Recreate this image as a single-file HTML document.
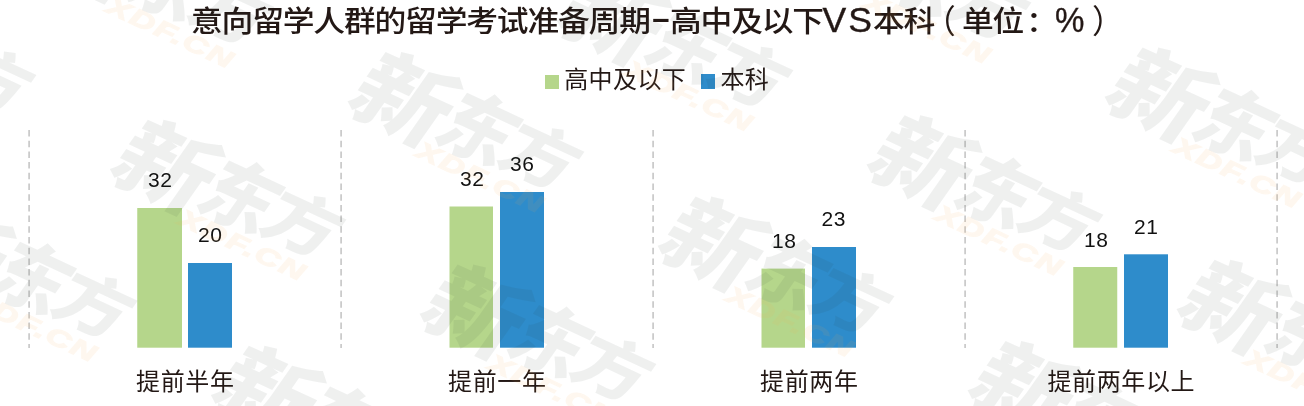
<!DOCTYPE html>
<html lang="zh-CN">
<head>
<meta charset="utf-8">
<title>意向留学人群的留学考试准备周期</title>
<style>
html,body{margin:0;padding:0;background:#fff;}
body{width:1304px;height:406px;position:relative;overflow:hidden;font-family:"Liberation Sans","Noto Sans CJK SC",sans-serif;color:#231815;}
.abs{position:absolute;white-space:nowrap;}
#title{left:0;top:1.5px;width:1304px;height:40px;}
#title span{position:absolute;top:0;line-height:40px;white-space:nowrap;font-size:29.15px;font-weight:500;letter-spacing:-1.08px;transform-origin:0 50%;transform:scaleX(1.09);}
#title span.lat{font-size:35.6px;font-weight:400;letter-spacing:2px;transform:none;top:-1.2px;-webkit-text-stroke:0.35px #231815;}
#title span.par{font-weight:400;-webkit-text-stroke:0;transform:scale(1.09,1.13);}
#title span.pct{letter-spacing:0;transform:scaleX(0.93);}
#title span.dash{font-size:31px;font-weight:700;letter-spacing:0;transform:none;top:-2.2px;-webkit-text-stroke:0;}
.legend{font-size:24px;line-height:30px;top:65px;letter-spacing:0.4px;}
.sq{position:absolute;width:14px;height:14px;}
svg.lines{position:absolute;left:0;top:0;}
.bar{position:absolute;}
.g{background:#b5d68b;}
.b{background:#2e8ccb;}
.val{position:absolute;font-size:21px;line-height:24px;width:60px;text-align:center;color:#111;letter-spacing:0.6px;text-indent:0.6px;}
.cat{position:absolute;font-size:24px;letter-spacing:0.6px;text-indent:0.6px;line-height:30px;top:367.4px;width:200px;text-align:center;}
#wm{position:absolute;left:695.7px;top:190.0px;width:0;height:0;transform-origin:0 0;transform:rotate(25.0deg);pointer-events:none;}
.wm{position:absolute;width:0;height:0;}
.wm b{position:absolute;white-space:nowrap;font-family:"Liberation Sans","Noto Sans CJK SC",sans-serif;font-weight:900;font-style:normal;line-height:1;color:#2b3a34;-webkit-text-stroke:0px #2b3a34;opacity:0.072;transform-origin:0 0;}
.wm .c1{left:-1px;top:-1.5px;font-size:80px;transform:skewX(-10.0deg) scale(1.2,1.12);}
.wm .c2{left:90px;top:0px;font-size:70px;transform:skewX(-10.0deg) scale(1.03,1.09);}
.wm .c3{left:156px;top:2.5px;font-size:64px;transform:skewX(-10.0deg) scale(1.15,1.03);}
.wm i{position:absolute;left:73px;top:68px;white-space:nowrap;font-family:"Liberation Sans",sans-serif;font-weight:700;font-style:italic;font-size:24px;line-height:1;letter-spacing:1.5px;color:#faaa50;-webkit-text-stroke:1.3px #faaa50;opacity:0.088;transform-origin:0 0;transform:scaleX(1.44);}
</style>
</head>
<body>
<div id="title" class="abs"><span style="left:191px">意向留学人群的留学考试准备周期</span><span class="dash" style="left:652.2px">–</span><span style="left:670.2px">高中及以下</span><span class="lat" style="left:822.5px">VS</span><span style="left:872.6px">本科</span><span class="par" style="left:924px">（</span><span style="left:962px">单位</span><span style="left:1025.5px">：</span><span class="lat pct" style="left:1054.8px">%</span><span class="par" style="left:1092px">）</span></div>

<div class="sq g" style="left:545px;top:74.5px;"></div>
<div class="abs legend" style="left:564.2px;">高中及以下</div>
<div class="sq b" style="left:701px;top:74px;height:15px;"></div>
<div class="abs legend" style="left:720.4px;">本科</div>

<svg class="lines" width="1304" height="406" viewBox="0 0 1304 406">
<g stroke="#c6c6c6" stroke-width="1.6" stroke-dasharray="6.5 4.2" fill="none">
<line x1="29.1" y1="130" x2="29.1" y2="348"/>
<line x1="341.1" y1="130" x2="341.1" y2="348"/>
<line x1="653.1" y1="130" x2="653.1" y2="348"/>
<line x1="965.1" y1="130" x2="965.1" y2="348"/>
<line x1="1277.1" y1="130" x2="1277.1" y2="348"/>
</g>
</svg>

<svg class="lines" width="1304" height="406" viewBox="0 0 1304 406">
<rect x="137.25" y="208" width="44.75" height="139.7" fill="#b5d68b"/>
<rect x="188" y="263" width="44" height="84.7" fill="#2e8ccb"/>
<rect x="449.5" y="206.5" width="43.5" height="141.2" fill="#b5d68b"/>
<rect x="500" y="192" width="44" height="155.7" fill="#2e8ccb"/>
<rect x="761.5" y="268.6" width="43.5" height="79.1" fill="#b5d68b"/>
<rect x="812" y="247" width="44" height="100.7" fill="#2e8ccb"/>
<rect x="1073.25" y="267" width="44" height="80.7" fill="#b5d68b"/>
<rect x="1124" y="254.3" width="44" height="93.4" fill="#2e8ccb"/>
</svg>

<div class="val" style="left:130px;top:168px;">32</div>
<div class="val" style="left:180px;top:223px;">20</div>
<div class="val" style="left:442px;top:167px;">32</div>
<div class="val" style="left:492px;top:152px;">36</div>
<div class="val" style="left:754px;top:229px;">18</div>
<div class="val" style="left:803.5px;top:207px;">23</div>
<div class="val" style="left:1066px;top:228px;">18</div>
<div class="val" style="left:1116px;top:214.5px;">21</div>

<div class="cat" style="left:85px;">提前半年</div>
<div class="cat" style="left:397px;">提前一年</div>
<div class="cat" style="left:709px;">提前两年</div>
<div class="cat" style="left:1021px;">提前两年以上</div>
<div id="wm">
<div class="wm" style="left:155px;top:-486px;"><b class="c1">新</b><b class="c2">东</b><b class="c3">方</b><i>XDF.CN</i></div>
<div class="wm" style="left:497px;top:-486px;"><b class="c1">新</b><b class="c2">东</b><b class="c3">方</b><i>XDF.CN</i></div>
<div class="wm" style="left:0px;top:-324px;"><b class="c1">新</b><b class="c2">东</b><b class="c3">方</b><i>XDF.CN</i></div>
<div class="wm" style="left:342px;top:-324px;"><b class="c1">新</b><b class="c2">东</b><b class="c3">方</b><i>XDF.CN</i></div>
<div class="wm" style="left:-529px;top:-162px;"><b class="c1">新</b><b class="c2">东</b><b class="c3">方</b><i>XDF.CN</i></div>
<div class="wm" style="left:-187px;top:-162px;"><b class="c1">新</b><b class="c2">东</b><b class="c3">方</b><i>XDF.CN</i></div>
<div class="wm" style="left:155px;top:-162px;"><b class="c1">新</b><b class="c2">东</b><b class="c3">方</b><i>XDF.CN</i></div>
<div class="wm" style="left:497px;top:-162px;"><b class="c1">新</b><b class="c2">东</b><b class="c3">方</b><i>XDF.CN</i></div>
<div class="wm" style="left:-684px;top:0px;"><b class="c1">新</b><b class="c2">东</b><b class="c3">方</b><i>XDF.CN</i></div>
<div class="wm" style="left:-342px;top:0px;"><b class="c1">新</b><b class="c2">东</b><b class="c3">方</b><i>XDF.CN</i></div>
<div class="wm" style="left:0px;top:0px;"><b class="c1">新</b><b class="c2">东</b><b class="c3">方</b><i>XDF.CN</i></div>
<div class="wm" style="left:342px;top:0px;"><b class="c1">新</b><b class="c2">东</b><b class="c3">方</b><i>XDF.CN</i></div>
<div class="wm" style="left:-871px;top:162px;"><b class="c1">新</b><b class="c2">东</b><b class="c3">方</b><i>XDF.CN</i></div>
<div class="wm" style="left:-529px;top:162px;"><b class="c1">新</b><b class="c2">东</b><b class="c3">方</b><i>XDF.CN</i></div>
<div class="wm" style="left:-187px;top:162px;"><b class="c1">新</b><b class="c2">东</b><b class="c3">方</b><i>XDF.CN</i></div>
<div class="wm" style="left:155px;top:162px;"><b class="c1">新</b><b class="c2">东</b><b class="c3">方</b><i>XDF.CN</i></div>
<div class="wm" style="left:-684px;top:324px;"><b class="c1">新</b><b class="c2">东</b><b class="c3">方</b><i>XDF.CN</i></div>
<div class="wm" style="left:-342px;top:324px;"><b class="c1">新</b><b class="c2">东</b><b class="c3">方</b><i>XDF.CN</i></div>
<div class="wm" style="left:-529px;top:486px;"><b class="c1">新</b><b class="c2">东</b><b class="c3">方</b><i>XDF.CN</i></div>
</div>
</body>
</html>
